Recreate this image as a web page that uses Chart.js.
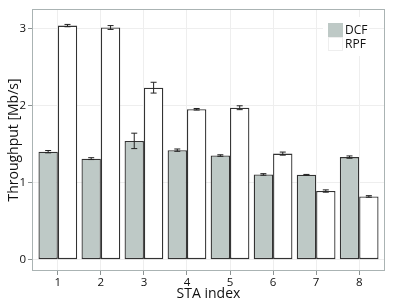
<!DOCTYPE html>
<html>
<head>
<meta charset="utf-8">
<script src="https://cdn.jsdelivr.net/npm/chart.js@4/dist/chart.umd.min.js"></script>
<style>
    body { margin: 0; background: #fff; }
    canvas { display: block; }
</style>
</head>
<body>
<canvas id="chart" width="399" height="306"></canvas>
<script>
// data
const staIndex = [1, 2, 3, 4, 5, 6, 7, 8];
const dcfValues = [1.40, 1.31, 1.54, 1.42, 1.35, 1.105, 1.10, 1.33];
const dcfErrors = [0.015, 0.012, 0.10, 0.015, 0.01, 0.01, 0.005, 0.015];
const rpfValues = [3.035, 3.01, 2.23, 1.95, 1.97, 1.375, 0.89, 0.82];
const rpfErrors = [0.015, 0.025, 0.07, 0.01, 0.025, 0.02, 0.015, 0.01];
const yTicks = [0, 1, 2, 3];

const fontFamily = '"Open Sans", "Noto Sans", sans-serif';
const dcfColor = '#bec9c6';
const panelBorderColor = '#aab3b3';


// gray border round the panel
const panelBorder = {
    id: 'panelBorder',
    afterDraw(chart) {
        const {ctx, chartArea} = chart;
        ctx.save();
        ctx.strokeStyle = panelBorderColor;
        ctx.lineWidth = 1;
        ctx.strokeRect(chartArea.left + 0.5, chartArea.top + 0.5, chartArea.width - 1, chartArea.height - 1);
        ctx.restore();
    }
};


// error bars on top of every bar
const errorBars = {
    id: 'errorBars',
    afterDatasetsDraw(chart) {
        const {ctx} = chart;
        const yScale = chart.scales.y;
        const allErrors = [dcfErrors, rpfErrors];
        ctx.save();
        ctx.strokeStyle = '#222';
        ctx.lineWidth = 1;
        chart.data.datasets.forEach((dataset, i) => {
            const meta = chart.getDatasetMeta(i);
            meta.data.forEach((bar, j) => {
                const value = dataset.data[j].y;
                const err = allErrors[i][j];
                const yHigh = yScale.getPixelForValue(value + err);
                const yLow = yScale.getPixelForValue(value - err);
                const x = bar.x;
                ctx.beginPath();
                ctx.moveTo(x, yHigh);
                ctx.lineTo(x, yLow);
                ctx.moveTo(x - 3, yHigh);
                ctx.lineTo(x + 3, yHigh);
                ctx.moveTo(x - 3, yLow);
                ctx.lineTo(x + 3, yLow);
                ctx.stroke();
            });
        });
        ctx.restore();
    }
};


// legend inside the panel, top right
const insideLegend = {
    id: 'insideLegend',
    afterDraw(chart) {
        const {ctx, chartArea} = chart;
        const right = chartArea.right;
        const top = chartArea.top;
        ctx.save();
        ctx.fillStyle = '#fff';
        ctx.fillRect(right - 62, top + 8, 46, 39);

        const keyX = right - 57;
        ctx.fillStyle = dcfColor;
        ctx.fillRect(keyX, top + 14, 15, 14);
        ctx.strokeStyle = '#eeeeee';
        ctx.lineWidth = 1;
        ctx.strokeRect(keyX + 0.5, top + 28.5, 14, 13);

        ctx.fillStyle = '#111';
        ctx.font = '12px ' + fontFamily;
        ctx.textAlign = 'left';
        ctx.textBaseline = 'middle';
        ctx.fillText('DCF', keyX + 17, top + 21.5);
        ctx.fillText('RPF', keyX + 17, top + 35.5);
        ctx.restore();
    }
};


const ctx = document.getElementById('chart');

new Chart(ctx, {
    type: 'bar',
    data: {
        datasets: [{
            label: 'DCF',
            data: staIndex.map((s, i) => ({x: s, y: dcfValues[i]})),
            backgroundColor: dcfColor,
            borderColor: '#333',
            borderWidth: 1.3,
            borderSkipped: false
        }, {
            label: 'RPF',
            data: staIndex.map((s, i) => ({x: s, y: rpfValues[i]})),
            backgroundColor: '#ffffff',
            borderColor: '#333',
            borderWidth: 1.3,
            borderSkipped: false
        }]
    },
    options: {
        responsive: false,
        animation: false,
        layout: {
            padding: {top: 9, right: 14, left: 0, bottom: 0}
        },
        datasets: {
            bar: {categoryPercentage: 0.9, barPercentage: 1}
        },
        scales: {
            x: {
                type: 'linear',
                min: 0.4,
                max: 8.6,
                offset: false,
                afterBuildTicks: axis => {
                    axis.ticks = staIndex.map(v => ({value: v}));
                },
                afterFit: axis => {
                    axis.height = 35;
                },
                grid: {
                    offset: false,
                    color: '#eeeeee',
                    tickColor: '#8c9393',
                    tickLength: 4
                },
                border: {display: false},
                ticks: {
                    color: '#111',
                    font: {family: fontFamily, size: 11.5},
                    padding: 1,
                    maxRotation: 0
                },
                title: {
                    display: true,
                    text: 'STA index',
                    color: '#111',
                    font: {family: fontFamily, size: 14},
                    padding: {top: 0, bottom: 4}
                }
            },
            y: {
                min: -0.147,
                max: 3.25,
                afterBuildTicks: axis => {
                    axis.ticks = yTicks.map(v => ({value: v}));
                },
                afterFit: axis => {
                    axis.width = 32;
                },
                grid: {
                    color: '#eeeeee',
                    tickColor: '#8c9393',
                    tickLength: 4
                },
                border: {display: false},
                ticks: {
                    color: '#111',
                    font: {family: fontFamily, size: 11.5},
                    padding: 2
                },
                title: {
                    display: true,
                    text: 'Throughput [Mb/s]',
                    color: '#111',
                    font: {family: fontFamily, size: 14},
                    padding: {top: 6, bottom: 0}
                }
            }
        },
        plugins: {
            legend: {display: false},
            tooltip: {enabled: false}
        }
    },
    plugins: [panelBorder, errorBars, insideLegend]
});
</script>
</body>
</html>
